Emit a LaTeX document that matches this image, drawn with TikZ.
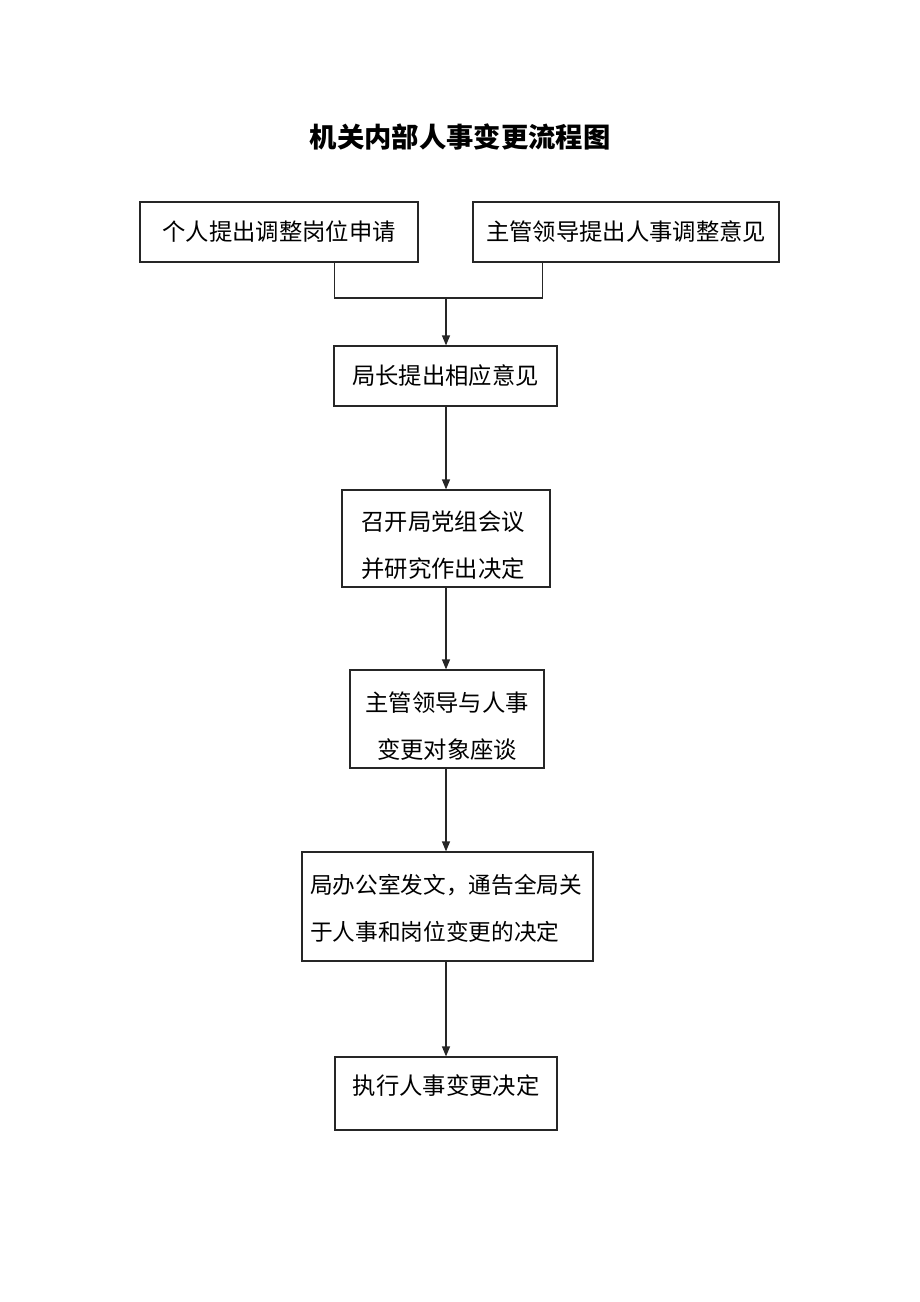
\documentclass[tikz,border=0pt]{standalone}
\usepackage{fontspec}
\setmainfont{Noto Sans CJK SC}
\usetikzlibrary{arrows.meta,calc}
\tikzset{
  box/.style={draw=black!85, line width=0.9pt, inner sep=0pt, font=\fontsize{17.5}{35}\selectfont},
  txt/.style={inner sep=0pt, font=\fontsize{17.5}{35}\selectfont},
  conn/.style={draw=black!85, line width=0.9pt},
  arr/.style={conn, -{Triangle[length=7.5pt,width=6pt]}}
}
\begin{document}
\begin{tikzpicture}[x=0.75pt,y=-0.75pt]
\useasboundingbox (0,0) rectangle (920,1302);
\node (title) at (460,137) {\fontsize{20.5}{24}\selectfont\bfseries 机关内部人事变更流程图};
\node[box, minimum width=278*0.75pt, minimum height=60*0.75pt] (b1) at (279,232) {个人提出调整岗位申请};
\node[box, minimum width=306*0.75pt, minimum height=60*0.75pt] (b2) at (626,232) {主管领导提出人事调整意见};
\node[box, minimum width=223*0.75pt, minimum height=60*0.75pt] (b3) at (445.5,376) {局长提出相应意见};
\node[box, minimum width=208*0.75pt, minimum height=97*0.75pt] (b4) at (446,538.5) {};
\node[txt, align=left] (t4) at (443,545) {召开局党组会议\\并研究作出决定};
\node[box, minimum width=194*0.75pt, minimum height=98*0.75pt] (b5) at (447,719) {};
\node[txt, align=center] (t5) at (447,726) {主管领导与人事\\变更对象座谈};
\node[box, minimum width=291*0.75pt, minimum height=109*0.75pt] (b6) at (447.5,906.5) {};
\node[txt, align=left, font=\fontsize{17}{35}\selectfont] (t6) at (446,908.5) {局办公室发文，通告全局关\\于人事和岗位变更的决定};
\node[box, minimum width=222*0.75pt, minimum height=73*0.75pt, text depth=13pt] (b7) at (446,1093.5) {执行人事变更决定};
\coordinate (j) at (446,298);
\draw[conn] ($(b1.south west)!0.698!(b1.south east)$) |- (j);
\draw[conn] ($(b2.south west)!0.229!(b2.south east)$) |- (j);
\draw[arr] (j) -- (b3.north -| j);
\draw[arr] (b3.south -| j) -- (b4.north -| j);
\draw[arr] (b4.south -| j) -- (b5.north -| j);
\draw[arr] (b5.south -| j) -- (b6.north -| j);
\draw[arr] (b6.south -| j) -- (b7.north -| j);
\end{tikzpicture}
\end{document}
